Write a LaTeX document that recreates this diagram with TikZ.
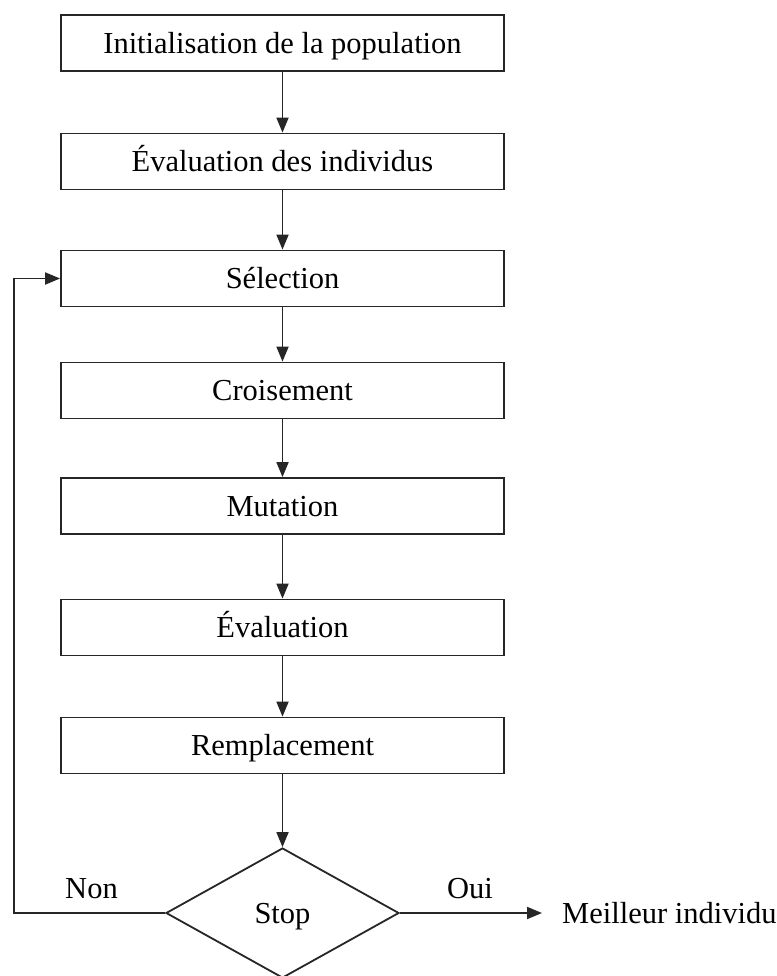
\documentclass[tikz,border=0pt]{standalone}
\usepackage{fontspec}
\setmainfont{Liberation Serif}
\usetikzlibrary{shapes.geometric,arrows.meta}
\begin{document}
\begin{tikzpicture}[x=1pt,y=-1pt,
  txt/.style={font=\fontsize{30.5}{36}\selectfont, text height=20.5pt, text depth=0pt},
  procbox/.style={txt, draw=black!85, line width=1.8pt, minimum width=443pt, minimum height=56pt, inner sep=0pt},
  decision/.style={txt, diamond, draw=black!85, line width=1.8pt, minimum width=233pt, minimum height=130pt, inner sep=0pt},
  lbl/.style={txt, inner sep=0pt},
  arr/.style={draw=black!85, line width=1.8pt, -{Triangle[length=15pt,width=12pt]}}]
\useasboundingbox (0,0) rectangle (776,976);
\fill[white] (0,0) rectangle (776,976);
\node[procbox] (b1) at (282.5,43) {Initialisation de la population};
\node[procbox] (b2) at (282.5,161.5) {Évaluation des individus};
\node[procbox] (b3) at (282.5,278.5) {Sélection};
\node[procbox] (b4) at (282.5,390.5) {Croisement};
\node[procbox] (b5) at (282.5,506) {Mutation};
\node[procbox] (b6) at (282.5,627.5) {Évaluation};
\node[procbox] (b7) at (282.5,745.5) {Remplacement};
\node[decision] (d) at (282.5,913) {Stop};
\node[lbl] (non) at (91.5,888) {Non};
\node[lbl] (oui) at (470,888) {Oui};
\node[lbl, anchor=west, inner xsep=20pt] (best) at (542,913) {Meilleur individu};
\coordinate (lc) at (14,913);
\draw[arr] (b1) -- (b2);
\draw[arr] (b2) -- (b3);
\draw[arr] (b3) -- (b4);
\draw[arr] (b4) -- (b5);
\draw[arr] (b5) -- (b6);
\draw[arr] (b6) -- (b7);
\draw[arr] (b7) -- (d);
\draw[arr] (d.west) -- (lc) |- (b3.west);
\draw[arr] (d.east) -- (d.east -| best.west);
\end{tikzpicture}
\end{document}
